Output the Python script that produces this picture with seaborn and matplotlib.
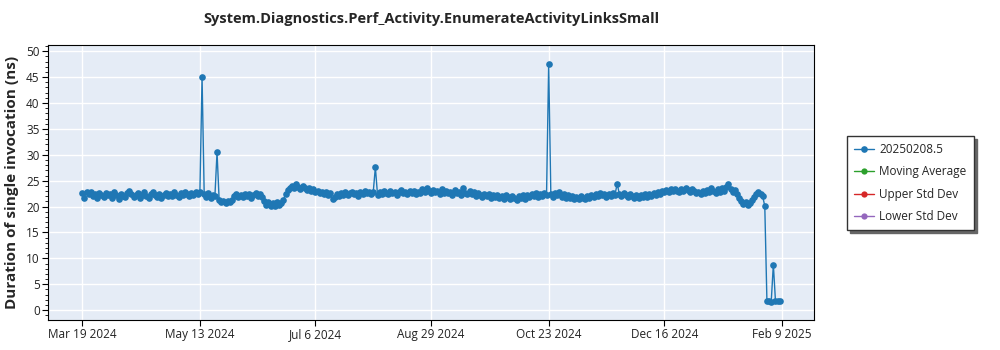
import matplotlib
matplotlib.use("Agg")
import matplotlib.pyplot as plt
import matplotlib.ticker as mticker
import numpy as np
import pandas as pd
import seaborn as sns

# Daily benchmark results, one list per month (values in ns)
mar_2024 = [22.6, 21.7, 22.9, 22.4, 22.8, 22.1, 22.5, 21.6, 22.7, 22.3, 21.8, 22.6, 22.2]
apr_2024 = [22.4, 21.7, 22.9, 22.2, 21.5, 22.5, 22.0, 21.9, 22.6, 23.1, 22.4, 21.8, 22.2, 22.7, 21.6,
            22.3, 22.8, 22.1, 21.7, 22.5, 22.9, 22.3, 21.9, 22.4, 21.6, 22.2, 22.7, 22.0, 22.5, 22.1]
may_2024 = [22.8, 22.3, 21.8, 22.6, 22.2, 22.9, 22.4, 22.0, 22.6, 22.3, 22.8, 22.5, 22.9, 45.0, 22.4,
            21.9, 22.6, 21.7, 22.2, 22.0, 30.5, 21.2, 20.8, 21.0, 20.7, 21.1, 20.9, 21.3, 22.1, 22.4, 21.9]
jun_2024 = [22.3, 21.8, 22.5, 22.0, 22.4, 21.7, 22.2, 22.6, 22.1, 22.5, 21.8, 21.0, 20.4, 20.8, 20.1,
            20.6, 20.2, 20.9, 20.3, 20.7, 21.3, 22.4, 23.2, 23.5, 24.0, 23.6, 24.3, 23.8, 23.4, 23.9]
jul_2024 = [23.6, 23.2, 23.5, 23.0, 23.3, 22.8, 23.1, 22.7, 22.9, 22.5, 22.8, 22.2, 22.6, 21.4, 21.9,
            22.4, 22.1, 22.7, 22.3, 22.8, 22.2, 22.6, 22.9, 22.4, 22.7, 22.1, 22.8, 22.5, 23.0, 22.6, 22.9]
aug_2024 = [22.4, 22.8, 27.6, 22.3, 22.9, 22.5, 23.1, 22.7, 22.4, 23.0, 22.6, 22.9, 22.3, 22.8, 23.2,
            22.6, 22.9, 22.5, 23.1, 22.7, 23.0, 22.4, 22.9, 22.6, 23.3, 22.8, 23.6, 23.1, 22.7, 23.2, 22.8]
sep_2024 = [23.0, 22.5, 23.4, 22.7, 23.1, 22.6, 22.9, 22.3, 23.2, 22.6, 22.9, 22.2, 23.5, 22.7, 22.4,
            23.0, 22.5, 22.8, 22.1, 22.6, 22.3, 21.8, 22.5, 22.0, 22.4, 21.7, 22.2, 21.9, 22.3, 21.6]
oct_2024 = [22.0, 21.5, 22.2, 21.8, 21.4, 22.1, 21.7, 21.3, 22.0, 21.6, 22.2, 21.5, 22.3, 21.9, 22.5,
            22.0, 22.6, 21.8, 22.4, 22.1, 22.7, 22.3, 47.5, 22.5, 21.9, 22.6, 22.2, 22.8, 21.8, 22.4, 21.7]
nov_2024 = [22.3, 21.6, 22.0, 21.5, 21.9, 21.4, 22.1, 21.7, 21.5, 22.0, 21.6, 22.2, 21.8, 22.4, 22.0,
            22.6, 22.2, 22.5, 21.9, 22.4, 22.1, 22.6, 22.3, 24.4, 22.5, 22.0, 22.6, 22.2, 21.8, 22.4]
dec_2024 = [22.0, 21.7, 22.3, 21.6, 22.2, 21.8, 22.4, 21.9, 22.5, 22.0, 22.6, 22.3, 22.8, 22.5, 23.1,
            22.8, 23.2, 22.9, 23.3, 23.0, 23.4, 23.1, 22.8, 23.3, 23.0, 23.5, 23.2, 22.9, 23.4, 23.1, 22.6]
jan_2025 = [22.9, 22.4, 23.0, 22.6, 23.2, 22.8, 23.5, 23.0, 22.7, 23.3, 22.9, 23.6, 23.1, 23.8, 24.3,
            23.4, 22.8, 23.2, 22.5, 21.7, 21.0, 20.5, 20.8, 20.3, 20.6, 21.2, 21.8, 22.4, 22.8, 22.5, 22.0]
feb_2025 = [20.1, 1.7, 1.8, 1.6, 8.8, 1.7, 1.8, 1.7]

first_day = "2024-03-19"
series_label = "20250208.5"
legend_labels = ["Moving Average", "Upper Std Dev", "Lower Std Dev"]
legend_colors = ["#2ca02c", "#d62728", "#9467bd"]

tick_dates = ["2024-03-19", "2024-05-13", "2024-07-06", "2024-08-29",
              "2024-10-23", "2024-12-16", "2025-02-09"]
tick_labels = ["Mar 19 2024", "May 13 2024", "Jul 6 2024", "Aug 29 2024",
               "Oct 23 2024", "Dec 16 2024", "Feb 9 2025"]

durations = (mar_2024 + apr_2024 + may_2024 + jun_2024 + jul_2024 + aug_2024 +
             sep_2024 + oct_2024 + nov_2024 + dec_2024 + jan_2025 + feb_2025)
df = pd.DataFrame({
    "date": pd.date_range(first_day, periods=len(durations), freq="D"),
    "duration": durations,
})

sns.set_style("darkgrid", rc={
    "axes.facecolor": "#e5ecf6",
    "grid.color": "white",
    "grid.linewidth": 1.0,
    "axes.edgecolor": "black",
    "axes.linewidth": 1.0,
    "xtick.bottom": True,
    "ytick.left": True,
})
plt.rcParams["font.family"] = ["Open Sans", "DejaVu Sans"]

fig = plt.figure(figsize=(10, 3.5), dpi=100)
ax = fig.add_axes([0.048, 0.0857, 0.766, 0.7857])

sns.lineplot(data=df, x="date", y="duration", ax=ax, color="#1f77b4",
             linewidth=1.0, marker="o", markersize=4.8, markeredgewidth=0,
             label=series_label)
for lab, col in zip(legend_labels, legend_colors):
    ax.plot([], [], color=col, linewidth=1.0, marker="o", markersize=4.5,
            markeredgewidth=0, label=lab)

ax.set_xlim(pd.Timestamp("2024-03-03"), pd.Timestamp("2025-02-24"))
ax.set_ylim(-1.9, 51.2)
ax.yaxis.set_major_locator(mticker.MultipleLocator(5))
ax.yaxis.set_minor_locator(mticker.MultipleLocator(1))
ax.set_xticks(pd.to_datetime(tick_dates))
ax.set_xticklabels(tick_labels)
ax.tick_params(axis="both", which="major", labelsize=8.5, length=4, width=0.8,
               color="black", labelcolor="#222222", pad=2)
ax.tick_params(axis="y", which="minor", length=2, width=0.6, color="black", left=True)
ax.grid(True, which="major", color="white", linewidth=1.0)
ax.grid(False, which="minor")

ax.set_xlabel("")
ax.set_ylabel("Duration of single invocation (ns)", fontsize=11, fontweight="bold",
              labelpad=5)
ax.set_title("System.Diagnostics.Perf_Activity.EnumerateActivityLinksSmall",
             fontsize=10.5, fontweight="bold", pad=16)

leg = ax.legend(loc="upper left", bbox_to_anchor=(0.847, 0.611),
                bbox_transform=fig.transFigure, borderaxespad=0.0,
                frameon=True, fancybox=False,
                shadow={"color": "0.4", "alpha": 1.0, "ox": 2, "oy": -2},
                framealpha=1.0, edgecolor="#333333", facecolor="white",
                fontsize=8.5, handlelength=1.7, handletextpad=0.45,
                borderpad=0.6, labelspacing=0.78)
leg.get_frame().set_linewidth(1.0)

fig.savefig("out.png", dpi=100)
